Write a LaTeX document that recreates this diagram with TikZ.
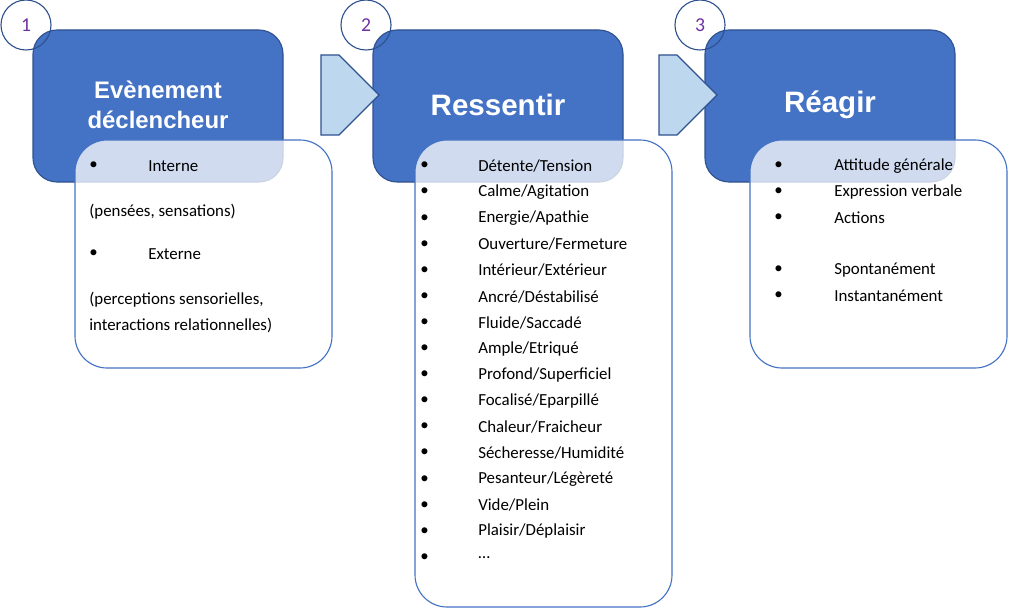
\documentclass[tikz,border=0pt]{standalone}
\usepackage{fontspec}
\setmainfont{Carlito}
\newfontfamily\titlefont{Liberation Sans}
\usetikzlibrary{shapes.arrows}
\definecolor{boxblue}{HTML}{4472C4}
\definecolor{boxedge}{HTML}{2F528F}
\definecolor{arrowfill}{HTML}{BDD7EE}
\definecolor{numpurple}{HTML}{7030A0}
\tikzset{
  stage/.style={fill=boxblue, draw=boxedge, thick, rounded corners=0.6cm},
  list/.style={fill=white, fill opacity=0.75, draw=boxblue, thick, rounded corners=0.8cm},
  num/.style={circle, draw=boxedge, thick, minimum size=1.25cm, inner sep=0pt, text=numpurple, font=\fontsize{14}{16}\selectfont},
  title/.style={text=white, align=center, font=\titlefont\bfseries\fontsize{17}{21}\selectfont},
  item/.style={anchor=west, inner sep=0pt, font=\fontsize{12}{14}\selectfont},
  flow/.style={single arrow, draw=boxedge, fill=arrowfill, thick, minimum width=2cm, single arrow head extend=0cm, single arrow tip angle=90, minimum height=1.45cm, inner sep=0pt, shape border rotate=0}
}
\begin{document}
\begin{tikzpicture}[x=0.025cm, y=-0.025cm]
\useasboundingbox (0,0) rectangle (1024,610);
% blue stages
\draw[stage] (33,30) rectangle (283,182);
\draw[stage] (373,30) rectangle (623,182);
\draw[stage] (705,30) rectangle (955,182);
\node[title] (t1) at (158,105) {Evènement\\déclencheur};
\node[title, font=\titlefont\bfseries\fontsize{21}{25}\selectfont] (t2) at (498,105) {Ressentir};
\node[title, font=\titlefont\bfseries\fontsize{21}{25}\selectfont] (t3) at (830,105) {Réagir};
% lists
\draw[list] (75,140) rectangle (332,368);
\draw[list] (415,140) rectangle (672,607);
\draw[list] (750,140) rectangle (1007,368);
% numbers
\node[num] (n1) at (26,25) {1};
\node[num] (n2) at (366,25) {2};
\node[num] (n3) at (700,25) {3};
% arrows
\foreach \ax/\nm in {330/a1, 668/a2}{
  \node[flow] (\nm) at (\ax,95) {};
  \fill[white] (\ax-26,74) rectangle (\ax-24,116);
  \fill[white] (\ax-21,74) rectangle (\ax-19,116);
}
% box 1
\node[item] (b1) at (89,166) {\textbullet};
\node[item] (i1) at (148,166) {Interne};
\node[item] (i2) at (89,212) {(pensées, sensations)};
\node[item] (b2) at (89,254) {\textbullet};
\node[item] (i3) at (148,254) {Externe};
\node[item] (i4) at (89,300) {(perceptions sensorielles,};
\node[item] (i5) at (89,325) {interactions relationnelles)};
% box 2
\foreach \txt [count=\k from 0] in {Détente/Tension, Calme/Agitation, Energie/Apathie,
  Ouverture/Fermeture, Intérieur/Extérieur, Ancré/Déstabilisé, Fluide/Saccadé,
  Ample/Etriqué, Profond/Superficiel, Focalisé/Eparpillé, Chaleur/Fraicheur,
  Sécheresse/Humidité, Pesanteur/Légèreté, Vide/Plein, Plaisir/Déplaisir, \dots}{
  \node[item] (r\k b) at (420,166+26.1*\k) {\textbullet};
  \node[item] (r\k) at (478,166+26.1*\k) {\txt};
}
% box 3
\foreach \txt/\yy [count=\k] in {Attitude générale/166, Expression verbale/192, Actions/218,
  Spontanément/270, Instantanément/296}{
  \node[item] (g\k b) at (774,\yy) {\textbullet};
  \node[item] (g\k) at (834,\yy) {\txt};
}
\end{tikzpicture}
\end{document}
